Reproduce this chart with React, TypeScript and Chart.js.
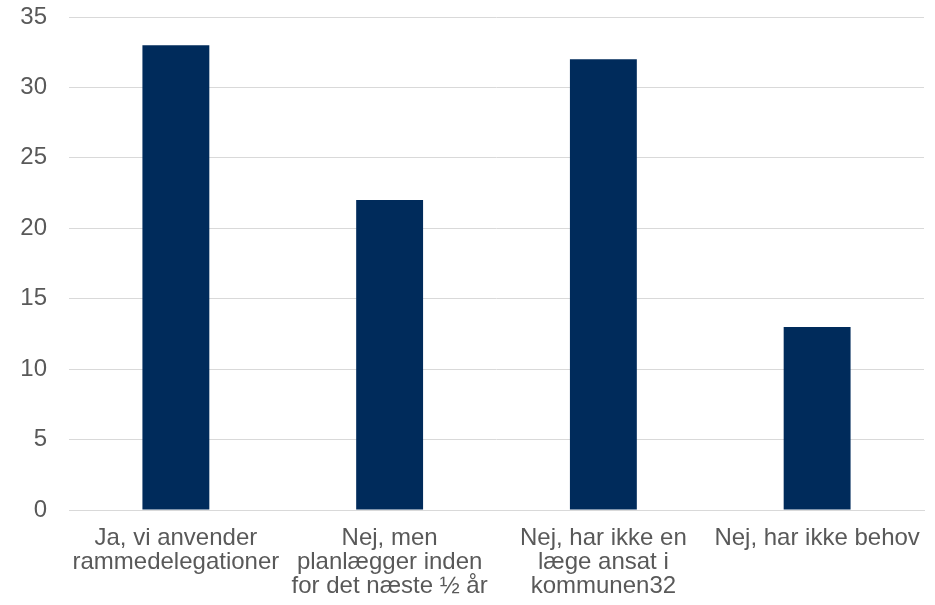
import React, { useEffect, useRef } from "react";
import { Chart, registerables } from "chart.js";

Chart.register(...registerables);

const categories: string[][] = [
  ["Ja, vi anvender", "rammedelegationer"],
  ["Nej, men", "planlægger inden", "for det næste ½ år"],
  ["Nej, har ikke en", "læge ansat i", "kommunen32"],
  ["Nej, har ikke behov"],
];
const values: number[] = [33, 22, 32, 13];
const yMin = 0;
const yMax = 35;
const yStep = 5;

export default function App() {
  const ref = useRef<HTMLCanvasElement | null>(null);
  useEffect(() => {
    document.body.style.margin = "0";
    const font = { family: "'Liberation Sans', Arial, sans-serif", size: 24, lineHeight: 1.0 };
    const chart = new Chart(ref.current as HTMLCanvasElement, {
      type: "bar",
      data: {
        labels: categories,
        datasets: [
          {
            data: values,
            backgroundColor: "#002B5B",
            barPercentage: 0.313,
            categoryPercentage: 1,
          },
        ],
      },
      options: {
        animation: false,
        responsive: false,
        maintainAspectRatio: false,
        layout: { padding: { top: 17, right: 11, bottom: 0, left: 0 } },
        plugins: { legend: { display: false }, tooltip: { enabled: false } },
        scales: {
          x: {
            grid: { display: false },
            border: { display: true, color: "#D9D9D9" },
            ticks: { color: "#595959", font, padding: 8, maxRotation: 0, autoSkip: false },
            afterFit: (s: any) => {
              s.height = 95;
              s.paddingLeft = 0;
              s.paddingRight = 0;
            },
          },
          y: {
            min: yMin,
            max: yMax,
            grid: { color: "#D9D9D9", lineWidth: 1, drawTicks: false },
            border: { display: false },
            ticks: { stepSize: yStep, color: "#595959", font, padding: 22 },
            afterFit: (s: any) => {
              s.width = 69;
              s.paddingTop = 0;
              s.paddingBottom = 0;
            },
          },
        },
      },
    });
    return () => chart.destroy();
  }, []);
  return (
    <div style={{ position: "absolute", left: 0, top: 0, width: 935, height: 605, background: "#fff" }}>
      <canvas ref={ref} width={935} height={605} style={{ width: 935, height: 605 }} />
    </div>
  );
}
